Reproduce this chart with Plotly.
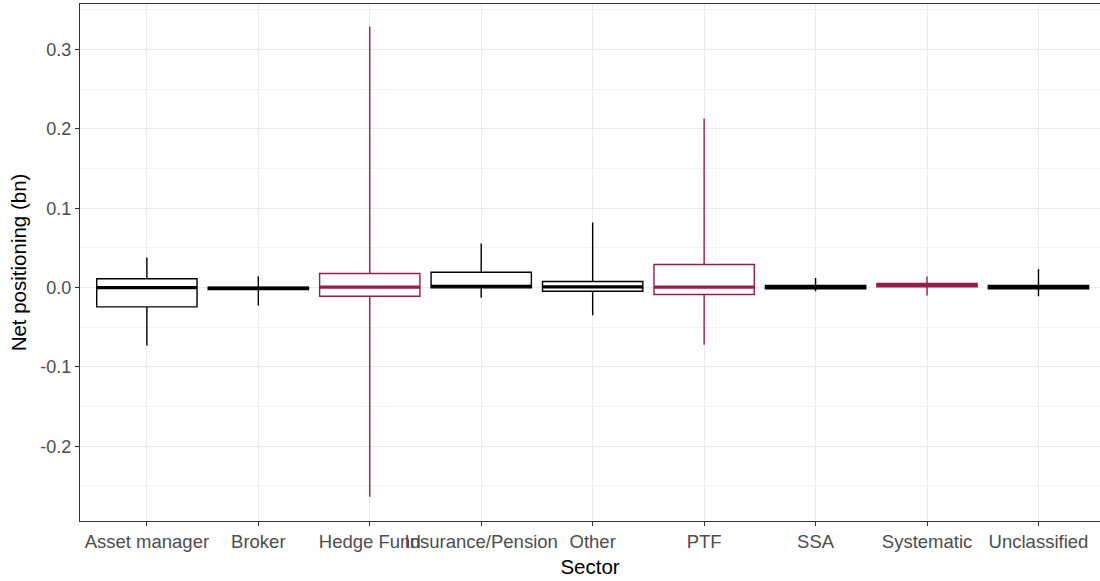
import plotly.graph_objects as go

# Sector categories and their box statistics (net positioning, bn)
sectors = ["Asset manager", "Broker", "Hedge Fund", "Insurance/Pension", "Other",
           "PTF", "SSA", "Systematic", "Unclassified"]
lower_whisker = [-0.073, -0.0227, -0.2636, -0.013, -0.035, -0.072, -0.0046, -0.010, -0.011]
q1 = [-0.0244, -0.0025, -0.011, -0.0004, -0.0046, -0.0088, -0.0015, 0.001, -0.0015]
median = [0.0, -0.001, 0.0004, 0.0016, 0.0009, 0.0004, 0.0005, 0.003, 0.0005]
q3 = [0.011, 0.0005, 0.0177, 0.0193, 0.0076, 0.029, 0.0025, 0.005, 0.0025]
upper_whisker = [0.038, 0.0143, 0.329, 0.0555, 0.082, 0.213, 0.012, 0.014, 0.0235]
highlight = [False, False, True, False, False, True, False, True, False]

y_ticks = [-0.2, -0.1, 0.0, 0.1, 0.2, 0.3]
y_tick_text = ["-0.2", "-0.1", "0.0", "0.1", "0.2", "0.3"]

BLACK = "#000000"
CRIMSON = "#9E1A4B"
BOX_WIDTH = 0.9

fig = go.Figure()
for i, name in enumerate(sectors):
    color = CRIMSON if highlight[i] else BLACK
    fig.add_trace(go.Box(
        x=[i], q1=[q1[i]], median=[median[i]], q3=[q3[i]],
        lowerfence=[lower_whisker[i]], upperfence=[upper_whisker[i]],
        width=BOX_WIDTH, whiskerwidth=0,
        line=dict(color=color, width=1.4), fillcolor="white",
        boxpoints=False, showlegend=False, name=name, hoverinfo="skip",
    ))
    # thicker median bar across the box
    fig.add_trace(go.Scatter(
        x=[i - BOX_WIDTH / 2, i + BOX_WIDTH / 2], y=[median[i], median[i]],
        mode="lines", line=dict(color=color, width=3.2),
        showlegend=False, hoverinfo="skip",
    ))

font = "Liberation Sans, Arial, sans-serif"
fig.update_layout(
    width=1100, height=581,
    margin=dict(l=80, r=0, t=4, b=60),
    paper_bgcolor="white", plot_bgcolor="white",
    boxmode="overlay",
    font=dict(family=font, color="#000000"),
    xaxis=dict(
        range=[-0.6, 8.552],
        tickvals=list(range(len(sectors))), ticktext=sectors, tickangle=0,
        tickfont=dict(size=18.5, color="#4D4D4D"),
        ticks="outside", ticklen=4, tickcolor="#333333",
        showgrid=True, gridcolor="#EBEBEB", gridwidth=1,
        showline=True, linecolor="#333333", linewidth=1.2, mirror=True,
        zeroline=False,
        title=dict(text="Sector", font=dict(size=20.5), standoff=8),
    ),
    yaxis=dict(
        range=[-0.2943, 0.3574],
        tickvals=y_ticks, ticktext=y_tick_text,
        tickfont=dict(size=18, color="#4D4D4D"),
        ticks="outside", ticklen=4, tickcolor="#333333",
        showgrid=True, gridcolor="#EBEBEB", gridwidth=1,
        minor=dict(dtick=0.05, tick0=0.05, showgrid=True, gridcolor="#F4F4F4", gridwidth=0.6, ticks=""),
        showline=True, linecolor="#333333", linewidth=1.2,
        zeroline=False,
        title=dict(text="Net positioning (bn)", font=dict(size=20.5), standoff=8),
    ),
)

fig.write_html("out.html")
